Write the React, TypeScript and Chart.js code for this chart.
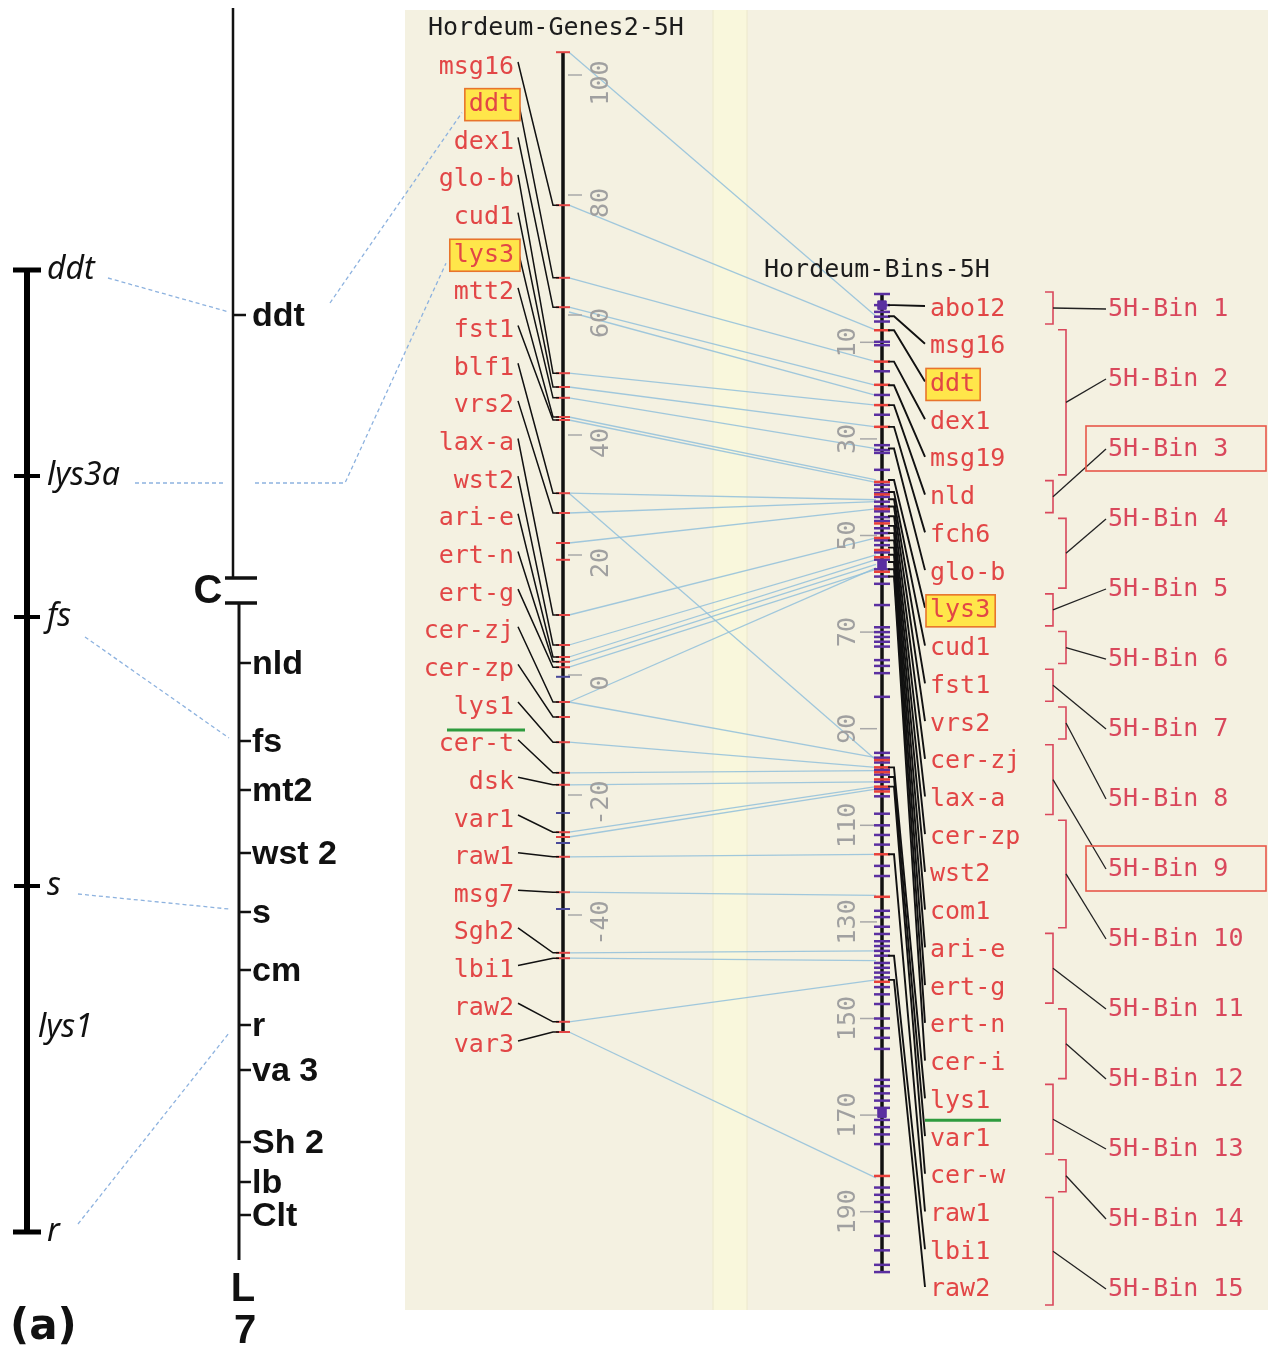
import React, { useEffect, useRef } from "react";
import { Chart, registerables } from "chart.js";

Chart.register(...registerables);

// ---------------- data ----------------
// Hordeum-Genes2-5H (cM)
const genes2Names = ["msg16", "ddt", "dex1", "glo-b", "cud1", "lys3", "mtt2", "fst1", "blf1", "vrs2", "lax-a", "wst2", "ari-e", "ert-n", "ert-g", "cer-zj", "cer-zp", "lys1", "cer-t", "dsk", "var1", "raw1", "msg7", "Sgh2", "lbi1", "raw2", "var3"];
const genes2Pos = [78.3, 66.2, 61.3, 50.3, 48.0, 46.2, 43.0, 42.5, 30.3, 27.0, 10.0, 5.0, 3.0, 2.2, 1.3, -4.5, -7.0, -11.2, -16.3, -18.3, -26.2, -30.3, -36.2, -46.3, -47.2, -57.8, -59.5];
const genes2ExtraRed = [103.8, 22.0, 19.2, -27.0];
const genes2ExtraBlue = [-0.3, -23.0, -28.0, -39.0];
const genes2Ticks = [100, 80, 60, 40, 20, 0, -20, -40];
const genes2Ends = [103.8, -59.5];
const genes2Highlight = ["ddt", "lys3"];
const genes2Underline = ["lys1"];

// Hordeum-Bins-5H (cM)
const binsNames = ["abo12", "msg16", "ddt", "dex1", "msg19", "nld", "fch6", "glo-b", "lys3", "cud1", "fst1", "vrs2", "cer-zj", "lax-a", "cer-zp", "wst2", "com1", "ari-e", "ert-g", "ert-n", "cer-i", "lys1", "var1", "cer-w", "raw1", "lbi1", "raw2"];
const binsPos = [2.3, 4.6, 7.5, 14.0, 18.9, 23.0, 27.5, 32.0, 38.5, 41.0, 42.5, 44.0, 46.0, 48.0, 49.5, 51.0, 52.5, 54.0, 55.5, 57.0, 58.5, 98.0, 100.0, 102.0, 116.0, 137.0, 142.0];
const binsPurple = [0, 2.3, 3.7, 4.7, 5.7, 9.9, 10.6, 16.0, 20.9, 25.0, 31.3, 32.3, 32.9, 36.4, 39.5, 40.5, 41.2, 42.0, 43.0, 44.0, 45.0, 46.2, 47.0, 48.5, 49.5, 51.0, 52.0, 53.5, 55.0, 57.0, 58.5, 60.0, 64.4, 69.0, 70.0, 71.0, 72.0, 73.0, 75.8, 77.0, 78.5, 83.4, 95.0, 96.0, 97.0, 98.5, 99.5, 101.0, 102.5, 104.0, 107.6, 110.0, 112.0, 114.0, 118.4, 120.5, 127.7, 129.0, 131.0, 132.5, 134.0, 135.0, 136.0, 137.0, 138.5, 139.5, 140.5, 141.5, 143.5, 145.0, 147.0, 150.0, 152.0, 154.0, 156.3, 162.7, 164.0, 165.5, 167.0, 168.5, 171.0, 172.5, 174.0, 176.0, 185.0, 186.5, 188.0, 190.0, 192.0, 195.0, 198.0, 201.0, 202.5];
const binsRed = [7.5, 14.0, 18.8, 23.0, 27.5, 38.9, 41.5, 44.5, 47.5, 50.5, 53.0, 54.5, 57.5, 96.5, 98.0, 99.0, 100.5, 102.0, 103.0, 116.0, 124.8, 142.4, 182.6];
const binsBlocks = [2.3, 56.0, 169.6];
const binsTicks = [10, 30, 50, 70, 90, 110, 130, 150, 170, 190];
const binsEnds = [0, 202.5];
const binsHighlight = ["ddt", "lys3"];
const binsUnderline = ["lys1"];

// comparative links Genes2 cM -> Bins cM
const linkGenes2 = [103.8, 78.3, 66.2, 61.3, 60.5, 50.3, 48.0, 46.2, 43.0, 42.5, 30.3, 30.3, 27.0, 22.0, 10.0, 5.0, 3.0, 2.2, 1.3, -4.5, -4.5, -11.2, -16.3, -18.3, -26.2, -27.0, -30.3, -36.2, -46.3, -47.2, -57.8, -59.5];
const linkBins = [4.6, 7.5, 14.0, 18.9, 21.0, 23.0, 27.5, 32.0, 38.5, 39.0, 42.6, 96.5, 43.0, 44.5, 50.5, 54.0, 55.0, 56.0, 57.0, 56.7, 96.0, 98.0, 98.7, 101.0, 102.0, 102.5, 116.0, 124.5, 136.0, 138.0, 142.0, 183.0];

// bins (index ranges into binsNames)
const binLabels = ["5H-Bin 1", "5H-Bin 2", "5H-Bin 3", "5H-Bin 4", "5H-Bin 5", "5H-Bin 6", "5H-Bin 7", "5H-Bin 8", "5H-Bin 9", "5H-Bin 10", "5H-Bin 11", "5H-Bin 12", "5H-Bin 13", "5H-Bin 14", "5H-Bin 15"];
const binFirst = [0, 1, 5, 6, 8, 9, 10, 11, 12, 14, 17, 19, 21, 23, 24];
const binLast = [0, 4, 5, 7, 8, 9, 10, 11, 13, 16, 18, 20, 22, 23, 26];
const binBoxed = ["5H-Bin 3", "5H-Bin 9"];

// classical chromosome 7 map (map units)
const classicalNames = ["ddt", "nld", "fs", "mt2", "wst 2", "s", "cm", "r", "va 3", "Sh 2", "lb", "Clt"];
const classicalPos = [30.7, 65.5, 73.3, 78.2, 84.5, 90.4, 96.2, 101.7, 106.2, 113.4, 117.4, 120.7];
const centromerePos = [57.0, 59.5];
const classicalEnds = [0, 125.2];

// lys map (map units)
const lysMapNames = ["ddt", "lys3a", "fs", "s", "r"];
const lysMapPos = [26.2, 46.8, 60.9, 87.8, 122.4];
const lysMapInnerName = "lys1";
const lysMapInnerPos = 102.0;
const lysToClassical = [["ddt", "ddt"], ["fs", "fs"], ["s", "s"], ["r", "r"]];

// ---------------- layout ----------------
const W = 1271;
const H = 1353;
const GX = 563;
const BX = 882;
const CX_UP = 233;
const CX_LO = 239;
const LX = 27;
const G_LABEL_RIGHT = 514;
const G_ROW0 = 67;
const G_PITCH = 37.65;
const B_LABEL_LEFT = 930;
const B_ROW0 = 309;
const B_PITCH = 37.73;
const BIN_ROW0 = 309;
const BIN_PITCH = 70;
const MONO = "'DejaVu Sans Mono', 'Liberation Mono', monospace";
const RED = "#e24646";
const PURPLE = "#5a2fa0";
const BINRED = "#d9485c";

const pts = (x: number, arr: number[]) => arr.map((y) => ({ x, y }));

const mapPlugin = {
  id: "mapPlugin",
  beforeDatasetsDraw(chart: any) {
    const ctx = chart.ctx as CanvasRenderingContext2D;
    const X = (v: number) => chart.scales.x.getPixelForValue(v);
    const G = (v: number) => chart.scales.yG.getPixelForValue(v);
    const B = (v: number) => chart.scales.yB.getPixelForValue(v);
    ctx.save();
    ctx.fillStyle = "#f4f1e1";
    ctx.fillRect(X(405), 10, X(1268) - X(405), 1300);
    ctx.fillStyle = "#f9f7dc";
    ctx.fillRect(X(713), 10, X(747) - X(713), 1300);
    ctx.strokeStyle = "#ece8cc";
    ctx.lineWidth = 1;
    ctx.beginPath();
    ctx.moveTo(X(713), 10); ctx.lineTo(X(713), 1310);
    ctx.moveTo(X(747), 10); ctx.lineTo(X(747), 1310);
    ctx.stroke();

    // comparative links
    ctx.strokeStyle = "rgba(145,192,218,0.85)";
    ctx.lineWidth = 1.3;
    linkGenes2.forEach((g, i) => {
      ctx.beginPath();
      ctx.moveTo(X(GX + 6), G(g));
      ctx.lineTo(X(BX - 6), B(linkBins[i]));
      ctx.stroke();
    });

    // titles
    ctx.fillStyle = "#1c1c1c";
    ctx.font = `25px ${MONO}`;
    ctx.textBaseline = "middle";
    ctx.textAlign = "left";
    ctx.fillText("Hordeum-Genes2-5H", X(428), 28);
    ctx.fillText("Hordeum-Bins-5H", X(764), 270);

    // axis ticks (gray)
    ctx.strokeStyle = "#a8a8a8";
    ctx.fillStyle = "#a0a0a0";
    ctx.lineWidth = 1.5;
    ctx.font = `25px ${MONO}`;
    ctx.textAlign = "center";
    genes2Ticks.forEach((t) => {
      const y = G(t);
      ctx.beginPath(); ctx.moveTo(X(GX + 5), y); ctx.lineTo(X(GX + 19), y); ctx.stroke();
      ctx.save(); ctx.translate(X(601), y + 8); ctx.rotate(-Math.PI / 2); ctx.fillText(String(t), 0, 0); ctx.restore();
    });
    binsTicks.forEach((t) => {
      const y = B(t);
      ctx.beginPath(); ctx.moveTo(X(BX - 22), y); ctx.lineTo(X(BX - 5), y); ctx.stroke();
      ctx.save(); ctx.translate(X(848), y); ctx.rotate(-Math.PI / 2); ctx.fillText(String(t), 0, 0); ctx.restore();
    });
    ctx.restore();
  },
  afterDatasetsDraw(chart: any) {
    const ctx = chart.ctx as CanvasRenderingContext2D;
    const X = (v: number) => chart.scales.x.getPixelForValue(v);
    const G = (v: number) => chart.scales.yG.getPixelForValue(v);
    const B = (v: number) => chart.scales.yB.getPixelForValue(v);
    const C = (v: number) => chart.scales.yC.getPixelForValue(v);
    ctx.save();
    ctx.textBaseline = "middle";

    // ---- Genes2 connectors and labels
    ctx.font = `25px ${MONO}`;
    ctx.strokeStyle = "#111";
    ctx.lineWidth = 1.5;
    genes2Names.forEach((n, i) => {
      const ry = G_ROW0 + i * G_PITCH;
      const my = G(genes2Pos[i]);
      ctx.beginPath();
      ctx.moveTo(X(G_LABEL_RIGHT + 4), ry - 5);
      ctx.lineTo(X(GX - 10), my);
      ctx.lineTo(X(GX - 4), my);
      ctx.stroke();
    });
    genes2Names.forEach((n, i) => {
      const ry = G_ROW0 + i * G_PITCH;
      const w = ctx.measureText(n).width;
      if (genes2Highlight.includes(n)) {
        ctx.fillStyle = "#ffe64a";
        ctx.strokeStyle = "#e8742c";
        ctx.lineWidth = 1.6;
        ctx.fillRect(X(G_LABEL_RIGHT) - w - 4, ry - 16, w + 10, 32);
        ctx.strokeRect(X(G_LABEL_RIGHT) - w - 4, ry - 16, w + 10, 32);
      }
      ctx.fillStyle = RED;
      ctx.textAlign = "right";
      ctx.fillText(n, X(G_LABEL_RIGHT), ry);
      if (genes2Underline.includes(n)) {
        ctx.strokeStyle = "#2e9b3e";
        ctx.lineWidth = 3;
        ctx.beginPath();
        ctx.moveTo(X(447), ry + 23);
        ctx.lineTo(X(525), ry + 23);
        ctx.stroke();
      }
    });

    // ---- Bins connectors and labels
    ctx.strokeStyle = "#111";
    ctx.lineWidth = 1.9;
    binsNames.forEach((n, i) => {
      const ry = B_ROW0 + i * B_PITCH;
      const my = B(binsPos[i]);
      ctx.beginPath();
      ctx.moveTo(X(BX + 6), my);
      ctx.lineTo(X(BX + 12), my);
      ctx.lineTo(X(B_LABEL_LEFT - 5), ry - 3);
      ctx.stroke();
    });
    binsNames.forEach((n, i) => {
      const ry = B_ROW0 + i * B_PITCH;
      const w = ctx.measureText(n).width;
      if (binsHighlight.includes(n)) {
        ctx.fillStyle = "#ffe64a";
        ctx.strokeStyle = "#e8742c";
        ctx.lineWidth = 1.6;
        ctx.fillRect(X(B_LABEL_LEFT) - 4, ry - 16, w + 9, 32);
        ctx.strokeRect(X(B_LABEL_LEFT) - 4, ry - 16, w + 9, 32);
      }
      ctx.fillStyle = RED;
      ctx.textAlign = "left";
      ctx.fillText(n, X(B_LABEL_LEFT), ry);
      if (binsUnderline.includes(n)) {
        ctx.strokeStyle = "#2e9b3e";
        ctx.lineWidth = 3;
        ctx.beginPath();
        ctx.moveTo(X(925), ry + 19);
        ctx.lineTo(X(1001), ry + 19);
        ctx.stroke();
      }
    });

    // ---- bins brackets and labels
    binLabels.forEach((lab, k) => {
      const top = B_ROW0 + binFirst[k] * B_PITCH - 17;
      const bot = B_ROW0 + binLast[k] * B_PITCH + 15;
      const bx = X(k % 2 === 0 ? 1053 : 1066);
      ctx.strokeStyle = BINRED;
      ctx.lineWidth = 1.6;
      ctx.beginPath();
      ctx.moveTo(bx - 8, top); ctx.lineTo(bx, top); ctx.lineTo(bx, bot); ctx.lineTo(bx - 8, bot);
      ctx.stroke();
      const ly = BIN_ROW0 + k * BIN_PITCH;
      ctx.strokeStyle = "#222";
      ctx.lineWidth = 1.3;
      ctx.beginPath();
      ctx.moveTo(bx, (top + bot) / 2);
      ctx.lineTo(X(1106), ly);
      ctx.stroke();
      ctx.fillStyle = BINRED;
      ctx.textAlign = "left";
      ctx.fillText(lab, X(1108), ly);
      if (binBoxed.includes(lab)) {
        ctx.strokeStyle = "#e8584a";
        ctx.lineWidth = 1.6;
        ctx.strokeRect(X(1086), ly - 23, 180, 45);
      }
    });

    // ---- classical map labels
    ctx.fillStyle = "#111";
    ctx.textAlign = "left";
    ctx.font = "bold 34px 'Liberation Sans', Arial, sans-serif";
    classicalNames.forEach((n, i) => {
      const x = i === 0 ? X(CX_UP + 19) : X(CX_LO + 13);
      ctx.fillText(n, x, C(classicalPos[i]) + 2);
    });
    ctx.font = "bold 40px 'Liberation Sans', Arial, sans-serif";
    ctx.textAlign = "center";
    ctx.fillText("C", X(208), (C(centromerePos[0]) + C(centromerePos[1])) / 2 + 1);
    ctx.fillText("L", X(243), C(classicalEnds[1]) + 30);
    ctx.fillText("7", X(245), C(classicalEnds[1]) + 72);
    ctx.font = "bold 42px 'DejaVu Sans', sans-serif";
    ctx.textAlign = "left";
    ctx.fillText("(a)", X(10), 1328);

    // ---- lys map labels
    ctx.font = "italic 32px 'Noto Sans', 'Open Sans', sans-serif";
    ctx.textAlign = "left";
    lysMapNames.forEach((n, i) => {
      ctx.fillText(n, X(LX + 20), C(lysMapPos[i]));
    });
    ctx.fillText(lysMapInnerName, X(LX + 11), C(lysMapInnerPos));

    // ---- dashed links
    ctx.strokeStyle = "#8db2df";
    ctx.lineWidth = 1.3;
    ctx.setLineDash([4, 3]);
    lysToClassical.forEach(([a, b]) => {
      const ya = C(lysMapPos[lysMapNames.indexOf(a)]);
      const yb = C(classicalPos[classicalNames.indexOf(b)]);
      const xa = a === "ddt" ? 108 : a === "fs" ? 85 : 78;
      const dy = a === "r" ? -8 : a === "fs" ? 20 : 8;
      ctx.beginPath();
      ctx.moveTo(X(xa), ya + dy);
      ctx.lineTo(X(CX_LO - 10), yb + (a === "r" ? 8 : -3));
      ctx.stroke();
    });
    // lys3a -> classical line -> Genes2 lys3
    const yl = C(lysMapPos[1]) + 7;
    const gLys3 = G_ROW0 + genes2Names.indexOf("lys3") * G_PITCH;
    ctx.beginPath();
    ctx.moveTo(X(135), yl); ctx.lineTo(X(226), yl);
    ctx.moveTo(X(255), yl); ctx.lineTo(X(345), yl); ctx.lineTo(X(446), gLys3 + 8);
    ctx.stroke();
    // classical ddt -> Genes2 ddt
    const gDdt = G_ROW0 + genes2Names.indexOf("ddt") * G_PITCH;
    ctx.beginPath();
    ctx.moveTo(X(330), C(classicalPos[0]) - 12);
    ctx.lineTo(X(462), gDdt + 8);
    ctx.stroke();
    ctx.setLineDash([]);
    ctx.restore();
  },
};

export default function App() {
  const ref = useRef<HTMLCanvasElement>(null);
  useEffect(() => {
    if (!ref.current) return;
    const lineDs = (axis: string, x: number, ends: number[], width: number, color: string) => ({
      type: "line" as const,
      yAxisID: axis,
      xAxisID: "x",
      data: pts(x, ends),
      showLine: true,
      borderColor: color,
      borderWidth: width,
      pointRadius: 0,
      order: 10,
      clip: false,
    });
    const tickDs = (axis: string, data: any[], radius: number, width: number, color: string, style: any = "line", order = 1) => ({
      type: "scatter" as const,
      yAxisID: axis,
      xAxisID: "x",
      data,
      pointStyle: style,
      pointRadius: radius,
      borderColor: color,
      backgroundColor: color,
      borderWidth: width,
      order,
      clip: false,
    });
    const classicalTickData = classicalPos.map((p, i) => ({ x: i === 0 ? CX_UP + 7 : CX_LO + 6, y: p }));
    const chart = new Chart(ref.current, {
      type: "scatter",
      data: {
        datasets: [
          lineDs("yG", GX, genes2Ends, 3.5, "#111"),
          lineDs("yB", BX, binsEnds, 3.5, "#111"),
          lineDs("yC", CX_UP, [classicalEnds[0], centromerePos[0]], 2.5, "#111"),
          lineDs("yC", CX_LO, [centromerePos[1], classicalEnds[1]], 3, "#111"),
          lineDs("yC", LX, [lysMapPos[0], lysMapPos[lysMapPos.length - 1]], 6, "#000"),
          tickDs("yG", pts(GX, genes2Pos.concat(genes2ExtraRed, [genes2Ends[1]])), 7, 2, RED),
          tickDs("yG", pts(GX, genes2ExtraBlue), 7, 2, "#4a4a9a"),
          tickDs("yB", pts(BX, binsPurple), 8, 2.5, PURPLE, "line", 3),
          tickDs("yB", pts(BX, binsRed), 8, 2.5, "#e8403a", "line", 2),
          tickDs("yB", pts(BX, binsBlocks), 6, 1, PURPLE, "rect", 1),
          tickDs("yC", classicalTickData, 6, 2.5, "#111"),
          tickDs("yC", pts(CX_LO + 2, centromerePos), 16, 3.5, "#111"),
          tickDs("yC", pts(LX, [lysMapPos[0], lysMapPos[lysMapPos.length - 1]]), 14, 5, "#000"),
          tickDs("yC", pts(LX, lysMapPos.slice(1, -1)), 13, 4, "#000"),
        ] as any,
      },
      options: {
        responsive: false,
        maintainAspectRatio: false,
        animation: false,
        devicePixelRatio: 1,
        events: [],
        layout: { padding: 0, autoPadding: false },
        plugins: { legend: { display: false }, tooltip: { enabled: false } },
        scales: {
          x: { type: "linear", min: 0, max: W, display: false },
          y: { type: "linear", display: false },
          yG: { type: "linear", min: -113, max: 112.5, display: false },
          yB: { type: "linear", reverse: true, min: -294 / 4.83, max: (H - 294) / 4.83, display: false },
          yC: { type: "linear", reverse: true, min: -0.8, max: 134.5, display: false },
        },
      } as any,
      plugins: [mapPlugin],
    });
    return () => chart.destroy();
  }, []);
  return (
    <div style={{ position: "absolute", left: 0, top: 0, width: W, height: H, background: "#fff" }}>
      <canvas ref={ref} width={W} height={H} style={{ display: "block", width: W, height: H }} />
    </div>
  );
}
